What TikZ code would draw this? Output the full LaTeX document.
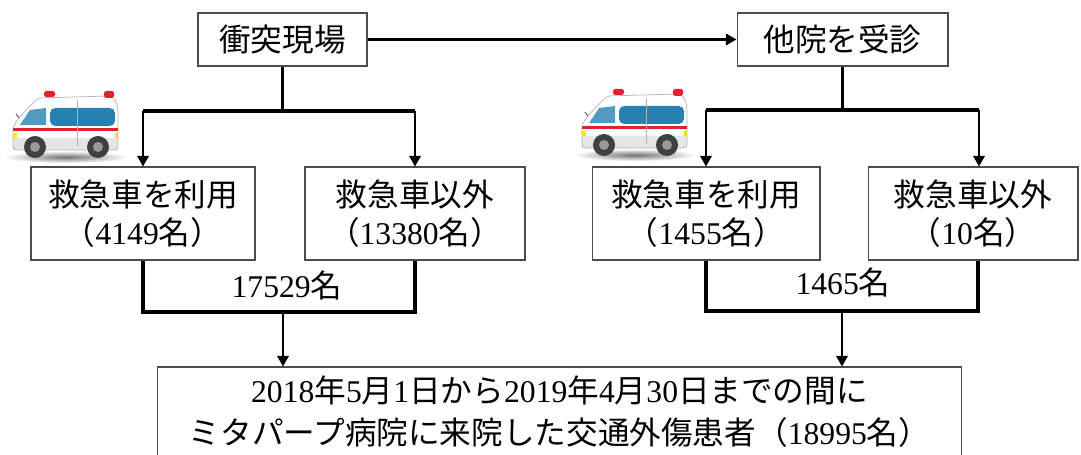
\documentclass[tikz,border=0pt]{standalone}
\usepackage{fontspec}
\setmainfont{Liberation Serif}
\newfontfamily\jpfont{Noto Sans CJK JP}
\newcommand{\ja}[1]{{\jpfont #1}}
\usetikzlibrary{arrows.meta, positioning}
\definecolor{ambblue}{RGB}{38,128,178}
\definecolor{ambred}{RGB}{228,32,44}
\tikzset{
  box/.style={
    draw=black!70,
    line width=0.6pt,
    rectangle,
    align=center,
    inner sep=0pt,
    font=\fontsize{18}{21.5}\selectfont,
  },
  count/.style={
    font=\fontsize{18}{21.5}\selectfont
  },
  arrow/.style={
    -{Triangle[length=6pt,width=6.5pt]},
    line width=1.1pt
  },
  fork/.style={
    line width=1.9pt,
    line join=miter
  },
  ambulance/.pic={
    % shadow under the car
    \shade[inner color=black!55, outer color=white] (56,69) ellipse [x radius=62, y radius=6];
    % body
    \fill[white] (3,62) -- (3,39) -- (8,31) -- (17,21) -- (28,10) -- (100,8)
      -- (106,12) -- (108,22) -- (108,62) -- cycle;
    \fill[black!10] (3,50) rectangle (108,62);
    \draw[black!30, line width=0.4pt, rounded corners=2] (3,62) -- (3,39) -- (8,31)
      -- (17,21) -- (28,10) -- (100,8) -- (106,12) -- (108,22) -- (108,62) -- cycle;
    % glass
    \fill[ambblue!80] (10,37) -- (20,22) -- (36,20) -- (36,37) -- cycle;
    \fill[ambblue, rounded corners=3] (40,20) rectangle (105,38);
    % stripe, lamps and lights
    \fill[ambred] (3,40) rectangle (108,43);
    \fill[ambred, rounded corners=1] (34,3) rectangle (45,9);
    \fill[ambred, rounded corners=1] (94,3) rectangle (104,10);
    \fill[yellow!90!orange] (3,45) rectangle (7,50);
    \fill[yellow!80!orange] (105,45) rectangle (108,50);
    \draw[black!30, line width=0.3pt] (67,12) -- (67,58);
    \draw[black!60, line width=0.6pt] (9,30) -- (6,26);
    % wheels
    \foreach \wx in {25,88} {
      \fill[black!75] (\wx,59) circle [radius=11];
      \fill[black!40] (\wx,59) circle [radius=5];
    }
  }
}

\begin{document}
\begin{tikzpicture}[x=0.02cm, y=-0.02cm]
\clip (0,0) rectangle (1081,455);

% --- ambulances ---
\pic at (10,88) {ambulance};
\pic at (579,86) {ambulance};

% --- boxes ---
\node[box, minimum width=3.38cm, minimum height=1.06cm] (hit) at (282.5,39.5)
  {\ja{衝突現場}};
\node[box, minimum width=4.22cm, minimum height=1.06cm] (other) at (842.5,39.5)
  {\ja{他院を受診}};

\node[box, minimum width=4.48cm, minimum height=1.86cm] (useL) at (143,213.5)
  {\ja{救急車を利用}\\\ja{（}4149\ja{名）}};
\node[box, minimum width=4.4cm, minimum height=1.86cm] (notL) at (415,213.5)
  {\ja{救急車以外}\\\ja{（}13380\ja{名）}};
\node[box, minimum width=4.56cm, minimum height=1.86cm] (useR) at (706,213.5)
  {\ja{救急車を利用}\\\ja{（}1455\ja{名）}};
\node[box, minimum width=4.2cm, minimum height=1.86cm] (notR) at (973,213.5)
  {\ja{救急車以外}\\\ja{（}10\ja{名）}};

\node[box, font=\fontsize{18}{24}\selectfont, minimum width=16.1cm, minimum height=1.8cm]
  (all) at (559.5,412)
  {2018\ja{年}5\ja{月}1\ja{日から}2019\ja{年}4\ja{月}30\ja{日までの間に}\\
   \ja{ミタパープ病院に来院した交通外傷患者（}18995\ja{名）}};

% --- forks ---
\coordinate (splitL) at (282.5,111);
\coordinate (splitR) at (842.5,110);
\coordinate (tipR) at (979,110);
\coordinate (sumL) at (283,312);
\coordinate (sumR) at (842,311);

\draw[arrow, line width=1.3pt] (hit) -- (other);

\draw[fork] (hit) -- (splitL);
\draw[fork] (useL.north |- splitL) -- (notL.north |- splitL);
\draw[arrow] (useL.north |- splitL) -- (useL);
\draw[arrow] (notL.north |- splitL) -- (notL);

\draw[fork] (other) -- (splitR);
\draw[fork] (useR.north |- splitR) -- (tipR);
\draw[arrow] (useR.north |- splitR) -- (useR);
\draw[arrow] (tipR) -- (tipR |- notR.north);

% --- totals ---
\draw[fork] (useL.south) |- (sumL) -| (notL.south);
\draw[fork] (useR.south) |- (sumR) -| (978,0 |- notR.south);
\draw[arrow] (sumL) -- (sumL |- all.north);
\draw[arrow] (sumR) -- (sumR |- all.north);

\node[count] (totL) at (287,285) {17529\ja{名}};
\node[count] (totR) at (843,282) {1465\ja{名}};

\end{tikzpicture}
\end{document}
